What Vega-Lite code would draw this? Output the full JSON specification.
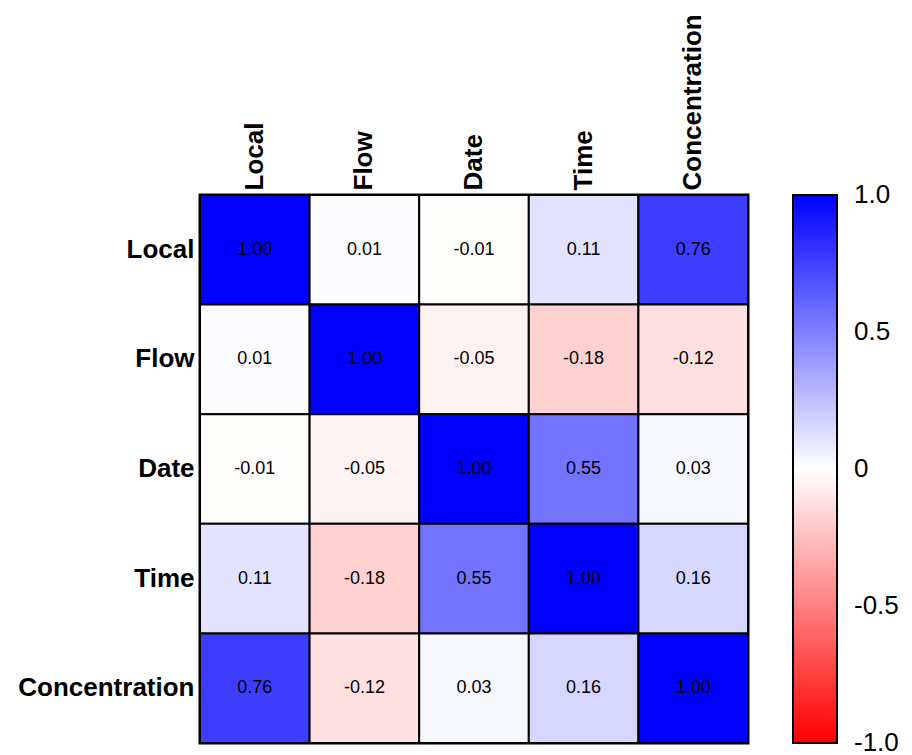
{
  "$schema": "https://vega.github.io/schema/vega-lite/v6.json",
  "width": 548,
  "height": 548,
  "autosize": {"type": "none"},
  "padding": {"left": 200, "top": 195, "right": 164, "bottom": 12},
  "background": "white",
  "config": {
    "view": {"stroke": "black", "strokeWidth": 3},
    "font": "Liberation Sans",
    "locale": {"number": {"decimal": ".", "thousands": ",", "grouping": [3], "currency": ["$", ""], "minus": "-"}}
  },
  "data": {"values": [
    {"row": "Local", "col": "Local", "value": 1.00},
    {"row": "Local", "col": "Flow", "value": 0.01},
    {"row": "Local", "col": "Date", "value": -0.01},
    {"row": "Local", "col": "Time", "value": 0.11},
    {"row": "Local", "col": "Concentration", "value": 0.76},
    {"row": "Flow", "col": "Local", "value": 0.01},
    {"row": "Flow", "col": "Flow", "value": 1.00},
    {"row": "Flow", "col": "Date", "value": -0.05},
    {"row": "Flow", "col": "Time", "value": -0.18},
    {"row": "Flow", "col": "Concentration", "value": -0.12},
    {"row": "Date", "col": "Local", "value": -0.01},
    {"row": "Date", "col": "Flow", "value": -0.05},
    {"row": "Date", "col": "Date", "value": 1.00},
    {"row": "Date", "col": "Time", "value": 0.55},
    {"row": "Date", "col": "Concentration", "value": 0.03},
    {"row": "Time", "col": "Local", "value": 0.11},
    {"row": "Time", "col": "Flow", "value": -0.18},
    {"row": "Time", "col": "Date", "value": 0.55},
    {"row": "Time", "col": "Time", "value": 1.00},
    {"row": "Time", "col": "Concentration", "value": 0.16},
    {"row": "Concentration", "col": "Local", "value": 0.76},
    {"row": "Concentration", "col": "Flow", "value": -0.12},
    {"row": "Concentration", "col": "Date", "value": 0.03},
    {"row": "Concentration", "col": "Time", "value": 0.16},
    {"row": "Concentration", "col": "Concentration", "value": 1.00}
  ]},
  "encoding": {
    "x": {
      "field": "col", "type": "nominal",
      "sort": ["Local", "Flow", "Date", "Time", "Concentration"],
      "scale": {"paddingInner": 0, "paddingOuter": 0},
      "axis": {
        "orient": "top", "title": null, "labelAngle": -90, "labelAlign": "left", "labelBaseline": "middle",
        "ticks": false, "domain": false, "labelFont": "Liberation Sans", "labelFontWeight": "bold",
        "labelFontSize": 26, "labelColor": "black", "labelPadding": 5, "labelLimit": 300
      }
    },
    "y": {
      "field": "row", "type": "nominal",
      "sort": ["Local", "Flow", "Date", "Time", "Concentration"],
      "scale": {"paddingInner": 0, "paddingOuter": 0},
      "axis": {
        "title": null, "ticks": false, "domain": false, "labelFont": "Liberation Sans", "labelFontWeight": "bold",
        "labelFontSize": 26, "labelColor": "black", "labelPadding": 6, "labelLimit": 300
      }
    }
  },
  "layer": [
    {
      "mark": {"type": "rect", "stroke": "black", "strokeWidth": 2},
      "encoding": {
        "color": {
          "field": "value", "type": "quantitative",
          "scale": {"domain": [-1, 0, 1], "range": ["#ff0000", "#ffffff", "#0000ff"], "interpolate": "rgb"},
          "legend": {
            "orient": "right", "offset": 45, "direction": "vertical", "title": null,
            "gradientLength": 548, "gradientThickness": 44,
            "gradientStrokeColor": "black", "gradientStrokeWidth": 2,
            "values": [1, 0.5, 0, -0.5, -1],
            "labelFont": "Liberation Sans", "labelFontSize": 26, "labelColor": "black",
            "labelOffset": 17, "labelOverlap": false, "labelLimit": 200, "labelBaseline": "middle",
            "labelExpr": "datum.value == 0 ? '0' : format(datum.value, '.1f')",
            "encode": {"labels": {"update": {"baseline": {"value": "middle"}}}}
          }
        }
      }
    },
    {
      "mark": {"type": "text", "fontSize": 18, "color": "black", "font": "Liberation Sans"},
      "encoding": {
        "text": {"field": "value", "type": "quantitative", "format": ".2f"}
      }
    }
  ]
}
